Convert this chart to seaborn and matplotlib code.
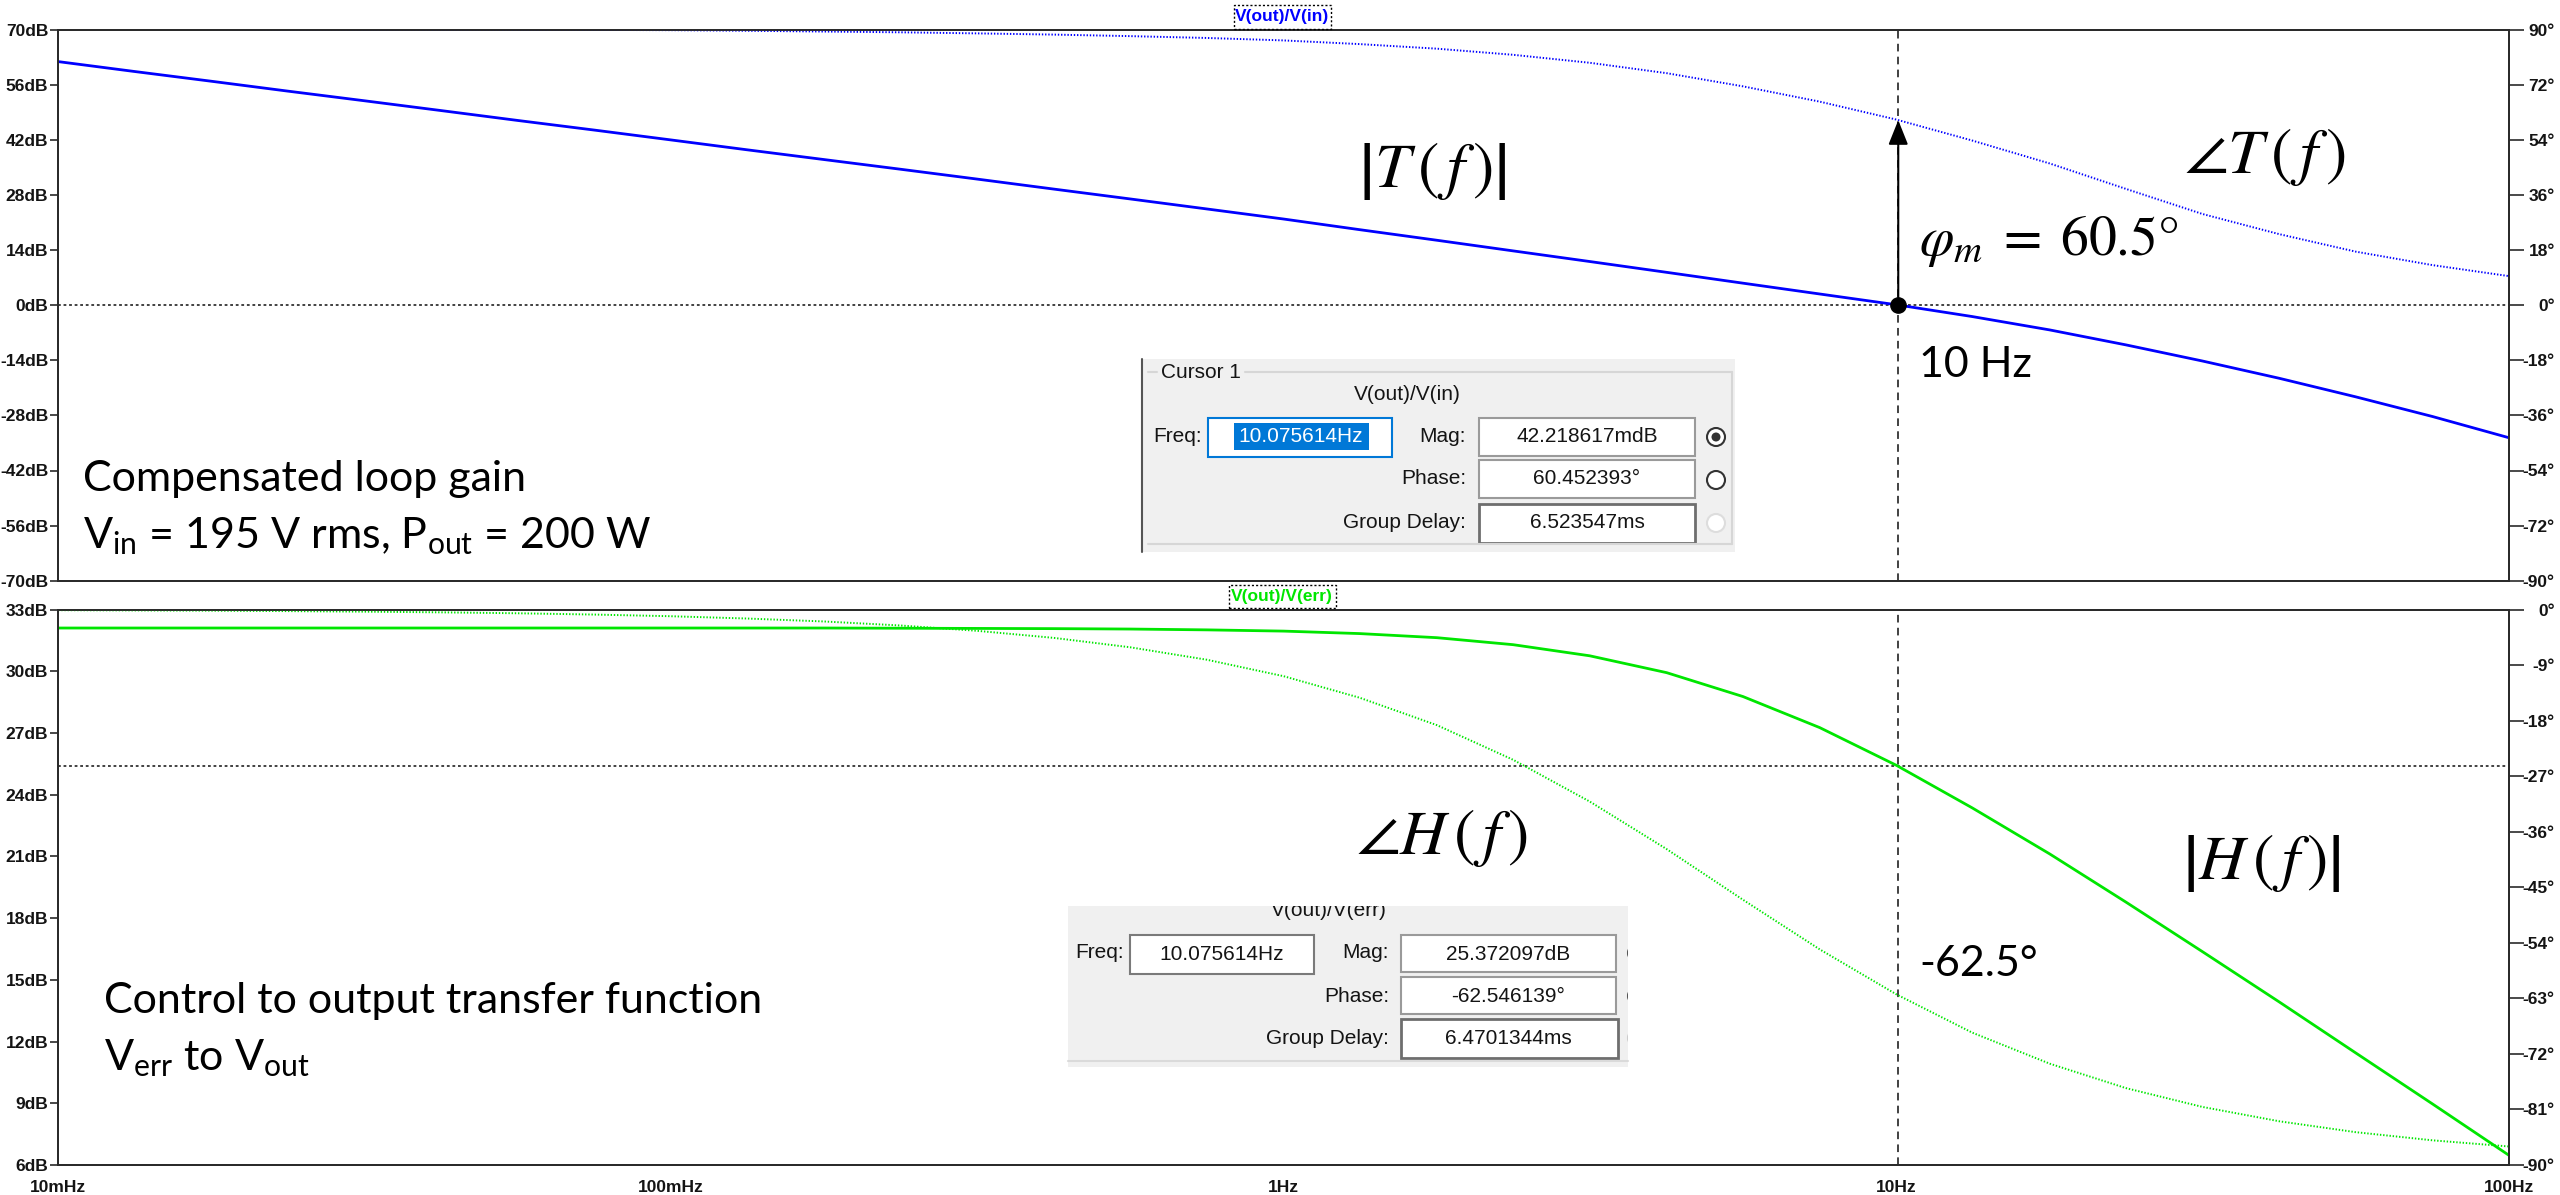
import matplotlib
matplotlib.use("Agg")
import matplotlib.pyplot as plt
from matplotlib.patches import Rectangle, Circle
from matplotlib.lines import Line2D
from matplotlib.ticker import LogLocator, NullFormatter
import pandas as pd
import seaborn as sns

# ---------------------------------------------------------------- data
# frequency grid (Hz), one point every eighth of a decade
freq_hz = [0.01, 0.0133, 0.0178, 0.0237, 0.0316, 0.0422, 0.0562, 0.075,
           0.1, 0.133, 0.178, 0.237, 0.316, 0.422, 0.562, 0.75,
           1.0, 1.33, 1.78, 2.37, 3.16, 4.22, 5.62, 7.5,
           10.0, 13.3, 17.8, 23.7, 31.6, 42.2, 56.2, 75.0, 100.0]

# compensated loop gain T(f) = V(out)/V(in)
loop_mag_db = [61.9, 59.4, 56.9, 54.4, 51.95, 49.45, 46.95, 44.5,
               42.0, 39.5, 37.0, 34.55, 32.05, 29.5, 27.0, 24.45,
               21.9, 19.2, 16.5, 13.8, 11.1, 8.35, 5.6, 2.85,
               0.12, -2.88, -6.28, -10.08, -14.18, -18.58, -23.28, -28.28, -33.68]
loop_phase_deg = [90.4, 90.3, 90.2, 90.1, 90.05, 90.0, 89.98, 89.93,
                  89.85, 89.65, 89.4, 89.15, 88.8, 88.4, 87.9, 87.3,
                  86.5, 85.3, 83.8, 81.8, 79.2, 75.8, 71.5, 66.5,
                  60.65, 53.8, 46.3, 38.0, 29.8, 23.2, 17.5, 13.1, 9.5]

# control-to-output transfer function H(f) = V(out)/V(err)
plant_mag_db = [32.10, 32.10, 32.10, 32.10, 32.10, 32.10, 32.10, 32.10,
                32.10, 32.10, 32.10, 32.09, 32.08, 32.07, 32.05, 32.01,
                31.95, 31.83, 31.63, 31.29, 30.75, 29.93, 28.77, 27.26,
                25.43, 23.36, 21.12, 18.78, 16.37, 13.92, 11.45, 8.97, 6.47]
plant_phase_deg = [-0.11, -0.15, -0.19, -0.26, -0.35, -0.46, -0.61, -0.82,
                   -1.09, -1.46, -1.94, -2.59, -3.45, -4.60, -6.12, -8.14,
                   -10.80, -14.28, -18.74, -24.35, -31.11, -38.82, -47.02, -55.06,
                   -62.34, -68.55, -73.58, -77.54, -80.59, -82.92, -84.68, -86.00, -87.00]

# axis ticks
top_db_ticks = [70, 56, 42, 28, 14, 0, -14, -28, -42, -56, -70]
top_deg_ticks = [90, 72, 54, 36, 18, 0, -18, -36, -54, -72, -90]
bot_db_ticks = [33, 30, 27, 24, 21, 18, 15, 12, 9, 6]
bot_deg_ticks = [0, -9, -18, -27, -36, -45, -54, -63, -72, -81, -90]
freq_ticks = [0.01, 0.1, 1, 10, 100]
freq_tick_labels = ["10mHz", "100mHz", "1Hz", "10Hz", "100Hz"]

# cursor readout
cursor_freq_hz = 10.075614
loop_cursor_mag_mdb = 42.218617
loop_cursor_phase_deg = 60.452393
loop_cursor_delay = "6.523547ms"
plant_cursor_mag_db = 25.372097
plant_cursor_phase_deg = -62.546139
plant_cursor_delay = "6.4701344ms"

# ---------------------------------------------------------------- style
sns.set_style("white")
UI_FONT = ["Liberation Sans", "DejaVu Sans"]
plt.rcParams["font.family"] = UI_FONT
plt.rcParams["mathtext.fontset"] = "custom"
plt.rcParams["mathtext.rm"] = "Lato"
plt.rcParams["mathtext.it"] = "Lato:italic"
plt.rcParams["mathtext.bf"] = "Lato:bold"
plt.rcParams["lines.scale_dashes"] = False

BLUE = "#0000FF"
GREEN = "#00E600"
INK = "#141414"
SPINE = "#2a2a2a"
TICK_FS = 12.5

DPI = 100
FIG_W, FIG_H = 2560, 1195
fig = plt.figure(figsize=(FIG_W / DPI, FIG_H / DPI), dpi=DPI, facecolor="white")

X0, X1 = 58, 2509
ax_top = fig.add_axes([X0 / FIG_W, 1 - 580.7 / FIG_H, (X1 - X0) / FIG_W, 551 / FIG_H])
ax_bot = fig.add_axes([X0 / FIG_W, 1 - 1165 / FIG_H, (X1 - X0) / FIG_W, 555.5 / FIG_H])
tw_top = ax_top.twinx()
tw_bot = ax_bot.twinx()

df = pd.DataFrame({"freq": freq_hz,
                   "loop_mag": loop_mag_db, "loop_phase": loop_phase_deg,
                   "plant_mag": plant_mag_db, "plant_phase": plant_phase_deg})

for ax in (ax_top, ax_bot):
    ax.set_xscale("log")
    ax.set_xlim(0.01, 100)

ax_top.set_ylim(-70, 70)
tw_top.set_ylim(-90, 90)
ax_bot.set_ylim(6, 33)
tw_bot.set_ylim(-90, 0)

DOTS = (0, (1.0, 1.3))
sns.lineplot(data=df, x="freq", y="loop_mag", ax=ax_top, color=BLUE, linewidth=2.0, legend=False)
sns.lineplot(data=df, x="freq", y="loop_phase", ax=tw_top, color=BLUE, linewidth=1.4,
             linestyle=DOTS, legend=False)
sns.lineplot(data=df, x="freq", y="plant_mag", ax=ax_bot, color=GREEN, linewidth=2.0, legend=False)
sns.lineplot(data=df, x="freq", y="plant_phase", ax=tw_bot, color=GREEN, linewidth=1.4,
             linestyle=DOTS, legend=False)

for ax in (ax_top, ax_bot, tw_top, tw_bot):
    ax.set_xlabel("")
    ax.set_ylabel("")
    for s in ax.spines.values():
        s.set_linewidth(1.3)
        s.set_color(SPINE)

tick_kw = dict(fontsize=TICK_FS, fontweight="bold", color=INK, family=UI_FONT)
ax_top.set_yticks(top_db_ticks, [f"{v}dB" for v in top_db_ticks], **tick_kw)
ax_bot.set_yticks(bot_db_ticks, [f"{v}dB" for v in bot_db_ticks], **tick_kw)
tw_top.set_yticks(top_deg_ticks, [f"{v}°" for v in top_deg_ticks], ha="right", **tick_kw)
tw_bot.set_yticks(bot_deg_ticks, [f"{v}°" for v in bot_deg_ticks], ha="right", **tick_kw)
for ax in (ax_top, ax_bot):
    ax.tick_params(axis="y", direction="out", length=6, width=1.2, pad=1, color=SPINE)
for ax in (tw_top, tw_bot):
    ax.tick_params(axis="y", direction="out", length=11, width=1.2, pad=22, color=SPINE)

ax_top.tick_params(axis="x", which="both", bottom=False, labelbottom=False)
ax_bot.set_xticks(freq_ticks, freq_tick_labels, **tick_kw)
ax_bot.xaxis.set_minor_locator(LogLocator(base=10, subs=range(2, 10), numticks=20))
ax_bot.xaxis.set_minor_formatter(NullFormatter())
ax_bot.tick_params(axis="x", which="major", direction="out", length=9, width=1.2, pad=2, color=SPINE)
ax_bot.tick_params(axis="x", which="minor", direction="out", length=5, width=1.2, color=SPINE)

# cursor cross-hairs
loop_cursor_mag_db = loop_cursor_mag_mdb / 1000.0
for ax in (ax_top, ax_bot):
    ax.axvline(cursor_freq_hz, color="#333333", lw=1.3, dashes=(5.5, 3.8), zorder=1)
ax_top.axhline(loop_cursor_mag_db, color="#333333", lw=1.3, dashes=(2.0, 2.0), zorder=1)
ax_bot.axhline(plant_cursor_mag_db, color="#333333", lw=1.3, dashes=(2.0, 2.0), zorder=1)

# phase-margin arrow from the crossover point up to the phase trace
tw_top.annotate("", xy=(cursor_freq_hz, loop_cursor_phase_deg), xycoords="data",
                xytext=(cursor_freq_hz, loop_cursor_mag_db), textcoords=ax_top.transData,
                arrowprops=dict(arrowstyle="-|>,head_length=0.75,head_width=0.3",
                                mutation_scale=20, color="black", lw=1.5, shrinkA=0, shrinkB=0))
tw_top.plot([cursor_freq_hz], [0], "o", ms=11, color="black", transform=ax_top.transData, zorder=5)

# curve annotations
math_kw = dict(math_fontfamily="stix", color="black")
ax_top.text(1.75, 34.1, r"$\left|T\,\left(\,f\,\right)\right|$", fontsize=46, ha="center", va="center", **math_kw)
ax_top.text(40.0, 37.7, r"$\angle T\,\left(\,f\,\right)$", fontsize=46, ha="center", va="center", **math_kw)
ax_top.text(10.9, 12.75, r"$\varphi_m\;=\;60.5°$", fontsize=40, ha="left", va="baseline", **math_kw)
ax_bot.text(1.815, 21.9, r"$\angle H\,\left(\,f\,\right)$", fontsize=46, ha="center", va="center", **math_kw)
ax_bot.text(39.5, 20.7, r"$\left|H\,\left(\,f\,\right)\right|$", fontsize=46, ha="center", va="center", **math_kw)

sans_kw = dict(family="Lato", fontsize=31, color="black", ha="left", va="baseline")
ax_top.text(10.9, -18.2, "10 Hz", **sans_kw)
ax_bot.text(10.9, 15.2, f"{plant_cursor_phase_deg:.1f}°", **sans_kw)
ax_top.text(0.011, -47.2, "Compensated loop gain", **sans_kw)
ax_top.text(0.011, -61.8, r"V$_{\rm in}$ = 195 V rms, P$_{\rm out}$ = 200 W", **sans_kw)
ax_bot.text(0.0119, 13.4, "Control to output transfer function", **sans_kw)
ax_bot.text(0.0119, 10.6, r"V$_{\rm err}$ to V$_{\rm out}$", **sans_kw)


# ---------------------------------------------------------------- overlays (pixel layout)
def P(x, y):
    return (x / DPI, (FIG_H - y) / DPI)


def rect(x0, y0, x1, y1, **kw):
    r = Rectangle(P(x0, y1), (x1 - x0) / DPI, (y1 - y0) / DPI,
                  transform=fig.dpi_scale_trans, **kw)
    fig.add_artist(r)
    return r


def hline(x0, x1, y, **kw):
    fig.add_artist(Line2D([x0 / DPI, x1 / DPI], [(FIG_H - y) / DPI] * 2,
                          transform=fig.dpi_scale_trans, **kw))


def vline(x, y0, y1, **kw):
    fig.add_artist(Line2D([x / DPI] * 2, [(FIG_H - y0) / DPI, (FIG_H - y1) / DPI],
                          transform=fig.dpi_scale_trans, **kw))


def label(x, y, s, **kw):
    kw.setdefault("family", UI_FONT)
    kw.setdefault("fontsize", 15)
    kw.setdefault("color", INK)
    kw.setdefault("va", "center")
    return fig.text(*P(x, y), s, transform=fig.dpi_scale_trans, **kw)


def radio(x, y, edge, dot=False, clip=None):
    c = Circle(P(x, y), 9 / DPI, transform=fig.dpi_scale_trans, fc="white", ec=edge, lw=1.5, zorder=3)
    fig.add_artist(c)
    if clip is not None:
        c.set_clip_path(clip)
    if dot:
        fig.add_artist(Circle(P(x, y), 4.5 / DPI, transform=fig.dpi_scale_trans,
                              fc="#333333", ec="none", zorder=4))


# trace names above each pane
label(1282, 17, "V(out)/V(in)", ha="center", color=BLUE, fontsize=TICK_FS, fontweight="bold")
rect(1234, 5, 1331, 29, fill=False, ec="black", lw=1.0, ls=(0, (1.5, 1.5)))
label(1282, 596, "V(out)/V(err)", ha="center", color=GREEN, fontsize=TICK_FS, fontweight="bold")
rect(1229, 585, 1336, 608, fill=False, ec="black", lw=1.0, ls=(0, (1.5, 1.5)))

FIELD_EC = "#9a9a9a"

# cursor window for the loop gain
rect(1141, 359, 1735, 552, fc="#F0F0F0", ec="none")
vline(1142, 359, 552, color="#555555", lw=1.5)
hline(1148, 1157, 372, color="#d6d6d6", lw=1.5)
hline(1245, 1732, 372, color="#d6d6d6", lw=1.5)
vline(1732, 372, 544, color="#d6d6d6", lw=1.5)
hline(1148, 1732, 544, color="#d6d6d6", lw=1.5)
label(1161, 372, "Cursor 1")
label(1407, 395, "V(out)/V(in)", ha="center")
label(1202, 437, "Freq:", ha="right")
rect(1208, 418, 1392, 457, fc="white", ec="#0078D7", lw=1.5)
rect(1234, 423, 1369, 450, fc="#0078D7", ec="none")
label(1301, 437, f"{cursor_freq_hz:.6f}Hz", ha="center", color="white")
label(1466, 437, "Mag:", ha="right")
rect(1479, 418, 1695, 456, fc="white", ec=FIELD_EC, lw=1.5)
label(1587, 437, f"{loop_cursor_mag_mdb:.6f}mdB", ha="center")
label(1466, 479, "Phase:", ha="right")
rect(1479, 460, 1695, 498, fc="white", ec=FIELD_EC, lw=1.5)
label(1587, 479, f"{loop_cursor_phase_deg:.6f}°", ha="center")
label(1466, 523, "Group Delay:", ha="right")
rect(1479, 504, 1695, 543, fc="white", ec="#6e6e6e", lw=2.0)
label(1587, 523, loop_cursor_delay, ha="center")
radio(1716, 437, "#333333", dot=True)
radio(1716, 480, "#333333")
radio(1716, 523, "#dddddd")

# cursor window for the control-to-output function
bg = rect(1068, 906, 1628, 1067, fc="#F0F0F0", ec="none")
hline(1068, 1628, 1061, color="#dadada", lw=1.5)
t = label(1329, 911, "V(out)/V(err)", ha="center")
t.set_clip_path(bg)
label(1124, 953, "Freq:", ha="right")
rect(1130, 935, 1314, 974, fc="white", ec="#7a7a7a", lw=1.5)
label(1222, 954, f"{cursor_freq_hz:.6f}Hz", ha="center")
label(1389, 953, "Mag:", ha="right")
rect(1401, 935, 1616, 972, fc="white", ec=FIELD_EC, lw=1.5)
label(1508, 954, f"{plant_cursor_mag_db:.6f}dB", ha="center")
label(1389, 996, "Phase:", ha="right")
rect(1401, 977, 1616, 1014, fc="white", ec=FIELD_EC, lw=1.5)
label(1508, 996, f"{plant_cursor_phase_deg:.6f}°", ha="center")
label(1389, 1038, "Group Delay:", ha="right")
rect(1401, 1019, 1618, 1058, fc="white", ec="#6e6e6e", lw=2.0)
label(1508, 1038, plant_cursor_delay, ha="center")
for yy, ec in ((953, "#555555"), (996, "#555555"), (1038, "#cccccc")):
    radio(1637, yy, ec, clip=bg)

fig.savefig("out.png", dpi=DPI, facecolor="white")
